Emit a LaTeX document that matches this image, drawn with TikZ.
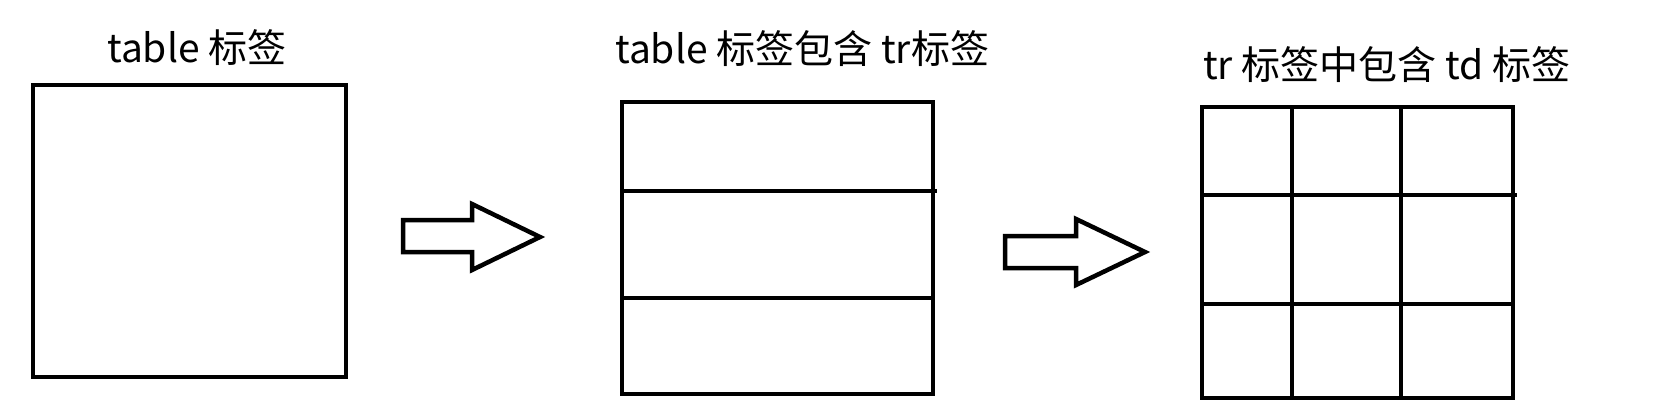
\documentclass[tikz,border=0pt]{standalone}
\usepackage{fontspec}
\setmainfont{Noto Sans CJK SC}
\begin{document}
\begin{tikzpicture}[x=1pt,y=-1pt,
  ln/.style={line width=4.5pt,line cap=rect,line join=miter},
  title/.style={anchor=base west,inner sep=0pt,font=\fontsize{39}{42}\selectfont},
  blockarrow/.style={line width=4.5pt,line join=miter,fill=white}]
\useasboundingbox (0,0) rectangle (1662,400);
% titles
\node[title] (t1) at (107,62) {table 标签};
\node[title] (t2) at (615,63) {table 标签包含 tr标签};
\node[title] (t3) at (1203,79) {tr 标签中包含 td 标签};
% box 1
\coordinate (b1nw) at (33,85);
\coordinate (b1se) at (346,377);
\draw[ln] (b1nw) rectangle (b1se);
% box 2 (rows)
\coordinate (b2nw) at (622,102);
\coordinate (b2se) at (933,394);
\draw[ln] (b2nw) rectangle (b2se);
\draw[ln] (622,191) -- (935,191);
\draw[ln] (622,298) -- (933,298);
% grid 3
\coordinate (b3nw) at (1202,107);
\coordinate (b3se) at (1513,398);
\draw[ln] (b3nw) rectangle (b3se);
\draw[ln] (1202,195) -- (1515,195);
\draw[ln] (1202,304) -- (1513,304);
\draw[ln] (1292,107) -- (1292,398);
\draw[ln] (1401,107) -- (1401,398);
% block arrows
\draw[blockarrow] (403,220) -- (472,220) -- (472,204) -- (540,237) -- (472,270) -- (472,252) -- (403,252) -- cycle;
\draw[blockarrow] (1005,236) -- (1076,236) -- (1076,219) -- (1145,252) -- (1076,285) -- (1076,268) -- (1005,268) -- cycle;
\end{tikzpicture}
\end{document}
